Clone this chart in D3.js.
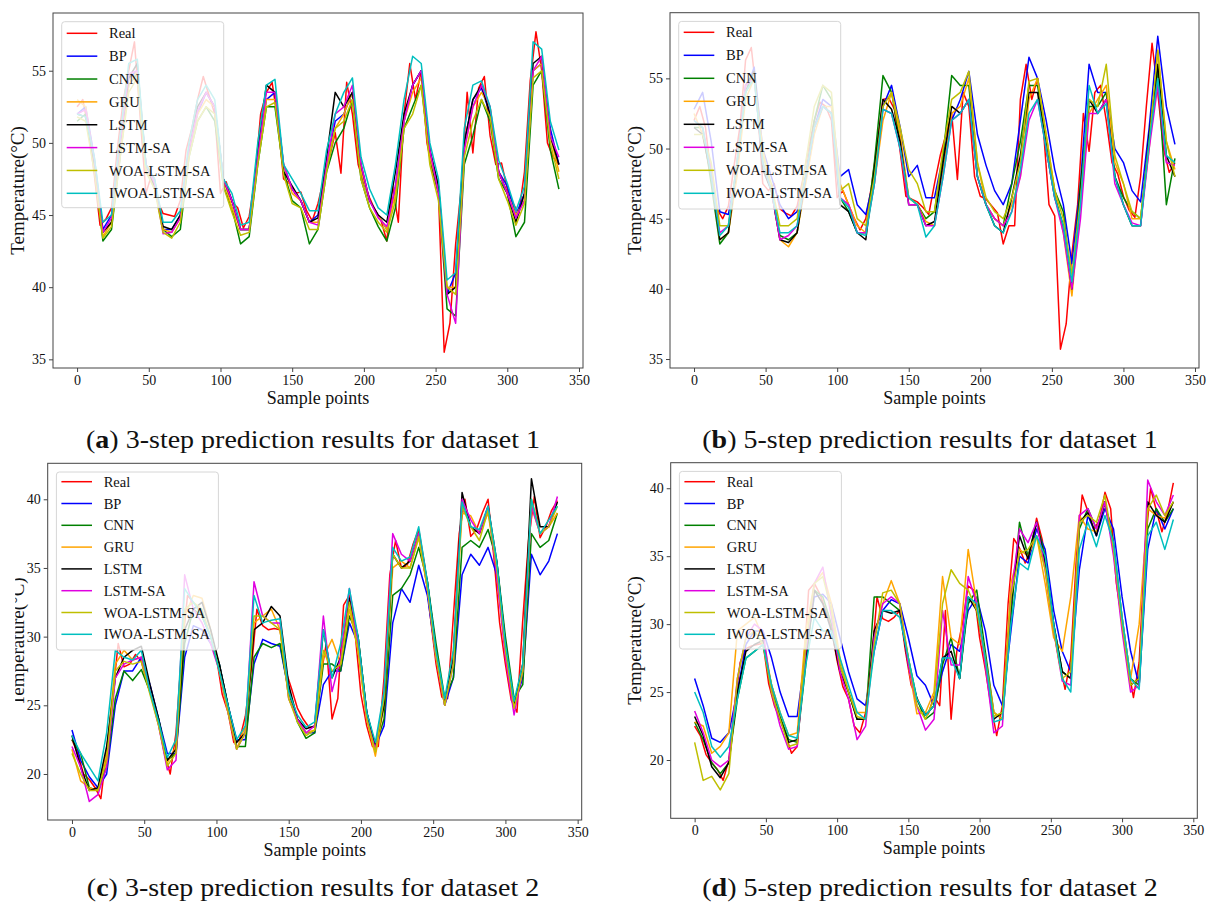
<!DOCTYPE html>
<html>
<head>
<meta charset="utf-8">
<script src="https://cdn.jsdelivr.net/npm/d3@7"></script>
<style>
  body { margin: 0; background: #fff; }
  svg { display: block; }
  text { font-family: "Liberation Serif", "Times New Roman", serif; fill: #111; }
</style>
</head>
<body>
<svg id="chart" width="1211" height="905"></svg>
<script>
// series names / colours (legend order = draw order)
const names = ["Real", "BP", "CNN", "GRU", "LSTM", "LSTM-SA", "WOA-LSTM-SA", "IWOA-LSTM-SA"];
const colors = ["#ff0000", "#0000ff", "#008000", "#ffa500", "#000000", "#e000e0", "#bfbf00", "#00bfbf"];
const xTicks = [0, 50, 100, 150, 200, 250, 300, 350];

// Real is read every 4 samples, the models every 6 samples
const realStep = 4, modelStep = 6;

// ---- (a) 3-step, dataset 1
const realA = [52.5,53.0,50.9,47.8,44.3,44.7,45.5,49.5,52.8,55.0, 57.0,51.8,46.5,47.8,46.0,45.1,45.0,44.9,46.0,49.5,
  51.0,53.0,54.6,53.3,52.0,46.5,47.3,45.9,45.5,44.1, 44.9,47.5,52.0,53.5,54.2,51.5,47.5,47.2,46.5,46.6,
  45.3,44.6,45.8,47.5,49.0,50.7,47.9,54.2,52.0,48.5, 47.2,46.2,45.3,44.6,43.2,47.0,44.5,52.0,55.5,53.0,
  55.0,50.0,48.0,46.5,35.5,37.5,43.0,47.0,53.5,49.3, 53.8,54.6,50.5,48.5,48.6,46.8,45.8,45.1,48.0,54.3,
  57.7,55.0,50.0,49.0,48.5];
const bpA = [52.0,52.5,49.0,44.0,45.0,49.5,54.5,55.0,48.5,47.5, 44.0,44.0,45.0,49.5,52.0,53.5,52.5,47.5,46.0,44.0,
  44.0,49.0,53.0,53.5,48.5,46.8,46.0,44.5,45.0,48.5, 51.5,52.0,53.5,48.0,46.0,45.0,44.0,47.0,51.5,54.0,
  55.0,49.5,47.0,39.5,41.0,50.0,53.0,53.8,52.0,48.0, 47.0,45.0,46.5,55.0,55.5,51.0,48.5];
const cnnA = [51.5,52.0,48.5,43.2,44.0,49.0,54.0,54.8,48.0,47.0, 44.0,43.5,44.0,49.0,51.5,52.5,51.5,47.0,45.5,43.0,
  43.5,48.5,52.5,52.5,48.0,46.0,45.5,43.0,44.0,48.0, 50.0,51.0,53.0,47.5,45.5,44.2,43.2,45.5,51.0,52.5,
  54.0,49.0,46.5,38.5,38.0,48.5,50.5,53.0,51.5,47.5, 46.5,43.5,44.5,54.0,55.0,49.5,46.8];
const gruA = [53.0,52.5,48.5,43.5,44.5,49.5,54.0,55.0,48.0,47.0, 44.0,43.8,44.8,49.5,52.0,53.0,52.5,47.5,45.5,44.0,
  44.0,49.0,53.0,53.0,48.5,46.5,46.0,44.5,44.5,48.5, 51.0,52.0,53.5,48.0,46.0,45.0,44.0,46.5,51.5,53.5,
  54.5,49.0,47.0,40.0,40.0,49.5,52.5,53.5,52.5,48.0, 46.5,45.0,46.0,55.0,55.5,50.5,48.0];
const lstmA = [52.0,51.8,48.5,43.8,44.5,50.0,54.5,55.5,48.5,47.0, 44.2,44.0,45.0,49.5,52.5,53.5,52.5,47.5,46.0,44.0,
  44.0,49.5,54.0,53.5,48.0,47.0,46.0,44.5,44.8,49.0, 53.5,52.5,53.5,48.5,46.0,45.0,44.5,48.0,52.0,54.0,
  55.0,49.5,47.0,39.5,40.0,50.0,53.0,54.0,52.0,48.0, 46.5,44.5,46.5,55.5,56.0,50.5,48.5];
const lstmSaA = [52.0,52.3,48.8,43.8,44.8,50.0,54.8,55.0,48.5,47.2, 43.7,43.8,44.8,49.5,52.2,53.5,52.5,47.5,46.0,44.0,
  44.0,49.0,53.5,53.5,48.5,46.8,46.0,44.5,44.3,48.5, 52.0,52.5,54.0,48.5,46.0,44.8,44.2,47.0,51.5,54.0,
  55.0,49.5,46.5,39.5,37.5,49.5,52.5,54.0,52.5,48.0, 46.5,44.8,46.0,55.0,56.0,50.5,49.0];
const woaA = [51.8,51.5,48.0,43.4,44.2,49.0,53.5,54.5,48.0,46.8, 43.8,43.4,44.5,49.0,51.5,52.5,52.0,47.0,45.2,43.6,
  43.8,48.5,52.5,52.8,47.8,45.8,45.5,44.0,44.0,48.0, 51.0,51.5,53.0,47.5,45.5,44.5,43.8,46.0,51.0,52.0,
  54.0,48.5,46.0,40.0,39.5,49.0,51.5,53.0,51.8,47.5, 46.0,44.3,45.8,54.5,55.0,50.0,47.5];
const iwoaA = [52.0,51.8,49.0,44.5,45.0,50.5,55.5,55.8,48.5,47.5, 44.5,44.5,45.3,50.0,53.0,54.0,53.0,47.5,46.5,44.3,
  44.5,50.0,54.0,54.4,48.5,47.5,46.5,45.3,45.3,49.5, 52.0,53.5,54.5,49.0,46.8,45.5,45.0,48.5,53.0,56.0,
  55.5,50.0,47.5,40.5,41.0,51.0,54.0,54.3,52.5,48.8, 47.2,45.3,47.0,57.0,56.5,51.5,49.5];

// ---- (b) 5-step, dataset 1
const realB = [52.0,53.0,51.5,48.0,45.7,45.0,45.9,48.8,51.5,56.3, 57.2,53.5,47.5,47.0,47.5,45.7,45.4,45.2,45.9,47.8,
  50.0,52.0,53.3,53.0,52.0,46.5,47.0,46.0,45.0,44.2, 45.0,47.3,50.4,53.5,53.6,52.8,49.8,46.6,46.4,46.2,
  45.8,45.3,47.5,49.5,51.0,52.5,47.8,54.0,53.0,48.0, 46.6,46.4,45.9,45.4,43.2,44.5,44.5,53.5,56.0,53.5,
  55.0,51.5,46.0,45.2,35.7,37.5,42.5,46.0,52.5,49.8, 54.0,54.5,52.0,49.0,48.2,46.6,45.6,45.1,48.0,53.0,
  57.5,54.0,50.0,48.3,49.0];
const bpB = [52.8,54.0,50.5,45.5,45.3,48.5,54.0,55.8,50.0,48.0, 46.0,45.0,45.5,48.0,51.5,53.5,53.0,48.0,48.5,46.0,
  45.3,48.0,53.0,54.5,51.5,48.0,48.8,46.5,46.5,49.5, 52.0,53.5,55.5,51.0,48.8,47.0,46.0,47.5,52.0,56.5,
  55.0,52.0,48.5,46.0,41.8,47.5,56.0,54.0,54.0,50.0, 49.0,47.0,46.2,51.5,58.0,53.0,50.3];
const cnnB = [51.5,51.5,47.5,43.2,44.0,48.5,54.0,55.5,49.0,47.0, 43.8,43.5,44.0,48.0,52.0,54.5,53.5,46.5,45.5,44.0,
  44.0,49.0,55.2,54.0,50.5,46.5,46.0,45.0,45.5,49.5, 55.2,54.5,54.5,48.0,46.0,45.0,44.5,47.5,50.5,54.5,
  54.5,50.5,47.0,45.5,40.0,47.5,53.0,53.0,54.0,48.0, 46.5,45.5,45.0,50.5,55.5,46.0,49.3];
const gruB = [52.5,51.0,48.0,43.5,44.0,48.0,53.5,55.0,50.0,47.0, 43.5,43.0,44.0,47.5,51.0,53.0,53.0,47.5,46.0,44.5,
  44.0,47.5,52.0,54.0,51.0,46.5,46.0,44.8,44.5,48.5, 52.5,53.0,55.0,49.0,46.0,45.0,44.5,46.0,48.0,53.5,
  55.0,51.0,47.0,44.0,39.5,46.0,52.5,53.5,54.5,49.0, 47.5,45.0,45.0,50.0,57.0,50.5,48.5];
const lstmB = [51.5,51.0,48.0,43.5,44.0,49.0,54.5,55.5,48.5,47.0, 43.5,43.3,44.0,48.0,51.5,53.0,52.5,46.0,45.5,44.0,
  43.5,48.5,53.5,52.8,50.5,46.0,46.0,44.5,44.8,49.0, 53.0,52.5,53.5,48.0,46.0,44.5,44.0,46.5,49.5,54.0,
  54.0,50.0,46.5,44.5,40.0,47.0,53.5,52.5,53.5,48.0, 46.0,44.5,44.5,51.0,56.0,49.5,48.0];
const lstmSaB = [52.0,51.5,48.5,44.0,44.5,49.0,54.5,55.0,49.0,47.0, 43.5,43.8,44.5,48.0,51.5,53.0,52.5,46.5,46.0,44.0,
  44.0,47.5,52.8,52.5,50.0,46.0,46.0,44.5,44.5,48.0, 52.0,52.5,53.5,48.0,46.0,45.0,44.5,45.5,48.0,52.0,
  53.5,50.0,46.5,44.0,40.0,45.0,52.5,52.5,53.5,47.5, 46.0,44.7,44.5,50.0,54.5,49.0,48.8];
const woaB = [51.0,51.0,49.0,44.5,44.5,49.0,54.0,55.0,49.5,47.5, 44.5,44.5,45.0,49.0,53.0,54.5,54.0,47.0,47.5,45.0,
  44.5,48.0,53.0,54.0,51.5,48.5,47.5,45.5,45.5,50.0, 53.5,54.0,55.5,49.0,46.5,45.5,45.0,46.5,49.0,54.8,
  55.0,51.0,47.0,45.0,41.0,46.5,53.5,53.0,56.0,49.5, 47.5,45.5,45.0,50.5,57.0,50.5,48.0];
const iwoaB = [52.0,51.5,48.0,43.8,44.5,49.0,54.0,55.0,49.0,47.0, 44.0,44.0,44.5,48.0,51.5,53.0,52.5,46.5,45.8,44.0,
  43.8,47.5,52.8,52.5,50.0,46.5,46.0,43.7,44.5,48.0, 52.0,52.5,53.5,48.0,46.0,44.5,44.0,45.5,48.5,52.5,
  53.5,50.0,46.5,44.5,40.5,46.0,54.5,52.5,53.2,48.0, 46.0,44.5,44.5,50.5,55.0,49.5,49.0];

// ---- (c) 3-step, dataset 2
const realC = [22.5,21.5,20.0,19.6,19.0,18.2,21.7,25.5,29.5,27.8, 28.0,28.7,28.2,26.6,25.3,23.6,21.5,20.0,23.0,29.0,
  33.0,32.5,32.0,31.0,30.0,28.5,25.8,24.5,22.3,22.5, 24.2,27.5,32.0,30.8,30.5,30.6,30.5,27.5,26.2,24.8,
  24.0,23.4,23.4,27.0,29.5,24.0,25.5,32.3,33.0,30.2, 25.8,23.5,22.0,22.0,27.0,34.5,37.0,35.0,35.2,36.7,
  37.8,35.3,31.5,28.0,25.6,25.5,31.5,37.5,40.0,37.3, 37.8,39.0,40.0,35.8,31.0,28.0,25.4,24.5,31.2,37.0,
  40.2,37.2,38.0,39.2,39.9];
const bpC = [23.2,21.0,19.8,19.0,20.0,25.0,27.5,27.5,28.5,26.5, 24.0,21.5,21.5,28.5,30.8,30.5,29.5,28.0,25.0,22.5,
  22.5,28.0,29.8,29.5,29.3,26.0,24.0,23.0,23.0,26.5, 27.5,27.5,31.0,29.5,24.5,22.0,23.5,31.0,33.5,32.5,
  35.2,33.0,28.5,25.0,27.0,34.5,36.0,35.2,36.5,34.5, 29.0,25.0,27.0,36.0,34.5,35.5,37.5];
const cnnC = [22.5,21.5,19.0,18.8,20.5,25.5,27.5,26.8,27.6,26.0, 24.0,21.0,21.5,29.5,32.0,31.5,30.0,28.0,25.0,22.0,
  22.0,28.5,29.5,29.2,29.5,26.0,23.8,22.6,23.0,28.0, 28.0,27.5,31.5,30.0,24.5,22.0,24.0,33.0,33.5,34.5,
  36.5,34.0,29.5,25.5,27.0,36.5,37.0,36.5,37.8,35.5, 30.0,25.5,26.5,37.5,36.5,37.0,39.0];
const gruC = [21.8,19.5,19.0,18.8,21.5,28.0,29.0,28.3,28.5,26.0, 23.8,20.8,22.0,31.5,33.0,32.8,30.5,27.5,24.5,21.8,
  23.5,31.0,31.5,32.0,30.5,25.5,24.0,23.0,23.2,28.5, 29.8,28.0,32.0,29.0,24.0,21.3,25.0,35.0,35.5,35.0,
  37.2,33.5,28.5,25.0,29.0,39.0,38.8,37.5,39.0,35.0, 29.0,24.8,28.0,39.5,37.5,38.0,39.0];
const lstmC = [22.8,20.5,18.8,19.0,22.0,27.0,28.5,29.0,29.3,26.5, 24.0,21.0,21.8,30.5,32.0,32.5,30.5,28.0,25.0,22.3,
  23.0,30.5,31.0,32.2,31.5,26.5,24.0,23.3,23.5,30.5, 27.0,28.5,32.8,30.0,24.5,22.0,25.0,36.0,35.0,35.5,
  37.5,34.0,29.0,25.2,28.5,40.5,38.0,37.5,39.5,35.5, 29.5,25.0,28.0,41.5,38.0,38.0,39.8];
const lstmSaC = [22.0,20.5,18.0,18.5,20.5,27.0,28.0,28.3,28.5,26.0, 23.5,20.3,21.0,34.5,32.0,31.0,29.5,27.5,24.5,21.8,
  23.0,34.0,31.5,31.0,31.0,25.5,24.0,23.0,23.5,31.5, 26.0,28.5,33.5,29.5,24.0,21.8,26.0,37.5,36.0,35.5,
  37.5,33.5,28.5,25.0,28.0,40.0,38.5,37.5,39.5,34.5, 28.5,24.3,27.5,39.5,37.5,38.0,40.2];
const woaC = [21.5,20.0,18.8,18.8,21.0,27.5,28.2,28.0,28.2,25.8, 23.5,20.6,21.5,32.0,32.5,32.0,30.0,27.5,24.5,21.8,
  23.0,31.5,31.5,31.0,30.5,25.5,23.8,22.8,23.2,29.0, 27.5,28.0,32.5,29.0,24.0,21.6,25.5,36.0,35.0,35.0,
  37.3,33.5,28.5,25.0,28.0,39.5,38.0,37.0,39.2,35.0, 29.0,24.8,27.5,40.0,37.5,38.0,39.5];
const iwoaC = [22.8,21.5,20.5,19.5,23.0,29.0,28.5,28.3,29.0,26.0, 23.8,21.2,22.5,33.5,32.5,31.5,30.0,27.5,25.0,22.5,
  23.5,33.0,31.0,31.2,31.3,26.0,24.3,23.4,23.8,30.5, 27.0,29.5,33.5,30.0,24.5,22.3,26.0,36.5,35.5,35.8,
  38.0,34.0,29.0,25.5,29.0,39.8,38.0,37.8,39.5,35.5, 29.5,25.3,28.0,40.0,37.5,38.5,39.5];

// ---- (d) 5-step, dataset 2
const realD = [22.5,21.8,20.4,19.8,19.3,18.5,20.0,24.0,27.2,28.2, 28.4,28.5,28.6,25.6,24.0,23.0,21.8,20.5,21.0,26.0,
  32.5,33.0,32.2,31.0,29.7,27.3,25.4,24.5,22.5,22.0, 23.5,27.0,32.0,30.4,30.2,30.5,31.0,28.0,25.5,24.6,
  23.5,23.4,24.7,24.0,31.0,23.0,28.0,30.1,32.8,32.5, 29.0,26.7,24.0,21.8,24.0,31.5,36.3,35.6,34.5,35.5,
  37.8,36.2,32.5,29.6,27.2,25.2,27.5,35.0,39.5,38.3, 37.0,37.6,39.7,38.5,33.0,30.2,27.0,24.6,27.2,35.5,
  40.0,38.4,36.8,38.3,40.4];
const bpD = [26.0,24.0,21.6,21.3,22.0,25.0,28.5,29.5,29.5,27.5, 25.0,23.2,23.2,28.0,32.0,32.2,31.5,29.0,26.5,24.5,
  24.0,28.0,31.0,31.8,31.5,29.0,26.2,25.5,24.0,26.5, 28.5,28.0,31.0,32.0,29.5,25.5,24.0,29.5,35.0,34.5,
  37.0,35.5,31.0,28.0,26.5,34.0,38.0,36.5,38.5,37.0, 32.0,28.0,25.5,35.5,38.5,37.0,38.5];
const cnnD = [22.8,21.5,19.8,19.0,19.8,24.5,27.5,28.0,28.5,25.5, 23.2,21.5,21.3,27.0,32.5,32.0,30.0,27.0,25.0,23.0,
  23.0,32.0,32.0,31.5,31.0,27.5,24.5,23.0,23.5,27.0, 29.0,26.0,31.5,32.5,28.0,23.5,23.0,30.5,37.5,35.0,
  37.5,35.0,30.0,26.5,26.0,37.0,38.5,37.0,39.0,36.0, 30.5,26.0,25.5,37.0,38.5,37.5,38.5];
const gruD = [22.8,22.5,20.5,21.0,22.0,29.5,30.0,30.5,29.0,25.5, 23.5,21.8,22.0,29.5,33.0,33.8,31.5,27.5,25.0,23.5,
  23.5,29.0,31.5,33.2,31.5,27.0,23.4,23.5,25.0,33.5, 29.0,28.5,35.5,31.5,27.5,23.5,23.0,33.0,35.5,35.0,
  36.5,33.0,29.0,28.0,32.0,38.0,37.0,36.8,39.0,35.5, 30.5,26.0,30.0,38.5,38.0,37.8,39.0];
const lstmD = [23.2,21.8,19.5,18.7,19.8,25.0,28.0,28.5,28.8,25.0, 23.0,21.3,21.5,27.5,32.5,31.5,29.5,26.5,25.0,23.0,
  23.0,29.5,31.0,30.8,31.0,27.0,24.5,23.3,24.0,27.5, 28.0,26.0,32.0,31.0,27.5,23.0,23.5,31.5,36.5,34.8,
  37.5,34.5,30.0,26.5,26.0,37.5,38.2,36.5,39.0,35.5, 30.0,25.5,26.0,39.0,38.0,37.5,39.0];
const lstmSaD = [23.6,22.0,20.0,19.5,20.0,26.0,29.0,30.0,29.5,25.0, 22.5,20.8,21.0,28.0,33.0,34.2,30.5,26.5,24.5,21.5,
  22.5,29.0,31.5,32.0,31.5,27.0,24.0,22.2,23.0,31.0, 27.0,27.0,33.5,31.5,27.0,22.0,22.5,32.0,37.0,36.0,
  37.5,34.0,29.5,25.8,25.5,38.0,38.5,37.0,39.0,35.0, 29.5,25.0,25.5,40.6,39.0,38.0,39.5];
const woaD = [21.3,18.5,18.8,17.8,19.0,26.0,29.0,29.5,28.5,25.0, 23.0,21.0,21.2,28.5,33.0,33.5,31.0,27.0,25.0,23.2,
  23.0,28.5,32.3,32.5,31.5,27.5,24.0,23.0,24.5,31.5, 34.0,33.0,32.5,31.0,27.5,23.2,23.5,32.0,35.2,35.5,
  36.5,34.0,29.5,26.0,26.5,37.5,38.0,37.5,39.5,35.5, 30.0,25.5,26.0,38.5,39.5,38.0,39.0];
const iwoaD = [25.0,23.5,21.0,20.2,21.0,24.5,27.5,28.0,28.5,25.5, 23.5,21.8,21.6,27.0,30.5,29.5,29.5,27.5,25.5,23.5,
  23.0,28.0,31.0,31.0,30.5,27.5,24.5,23.3,24.0,27.5, 27.5,26.0,32.0,31.5,27.5,22.8,23.0,30.0,34.5,34.0,
  36.5,35.0,30.0,26.0,25.0,35.5,37.5,35.7,38.0,36.0, 30.5,26.0,25.2,36.5,37.5,35.5,37.7];

// panel layout
const panels = [
  { letter: "a", text: " 3-step prediction results for dataset 1", left: 53, top: 13, right: 583, bottom: 368,
    yDomain: [34.4, 59.0], yTicks: [35, 40, 45, 50, 55], ylabX: 24, row0: 20.3, rowDy: 22.86, legH: 186, capX: 313, capY: 448,
    series: [realA, bpA, cnnA, gruA, lstmA, lstmSaA, woaA, iwoaA] },
  { letter: "b", text: " 5-step prediction results for dataset 1", left: 670, top: 12.7, right: 1199, bottom: 368,
    yDomain: [34.36, 59.68], yTicks: [35, 40, 45, 50, 55], ylabX: 641, row0: 19.6, rowDy: 23, legH: 187.6, capX: 930, capY: 448,
    series: [realB, bpB, cnnB, gruB, lstmB, lstmSaB, woaB, iwoaB] },
  { letter: "c", text: " 3-step prediction results for dataset 2", left: 47.7, top: 463.3, right: 581.7, bottom: 820,
    yDomain: [16.65, 42.62], yTicks: [20, 25, 30, 35, 40], ylabX: 24, row0: 18.4, rowDy: 21.8, legH: 178, capX: 313, capY: 896,
    clipLabel: 15.2, series: [realC, bpC, cnnC, gruC, lstmC, lstmSaC, woaC, iwoaC] },
  { letter: "d", text: " 5-step prediction results for dataset 2", left: 670.7, top: 462.7, right: 1197.3, bottom: 818.3,
    yDomain: [15.71, 41.88], yTicks: [20, 25, 30, 35, 40], ylabX: 641, row0: 19, rowDy: 21.8, legH: 177.6, capX: 930, capY: 896,
    series: [realD, bpD, cnnD, gruD, lstmD, lstmSaD, woaD, iwoaD] }
];

const svg = d3.select("#chart");
const frameColor = "#444";

panels.forEach((p, pi) => {
  const x = d3.scaleLinear().domain([-16.8, 352.8]).range([p.left, p.right]);
  const y = d3.scaleLinear().domain(p.yDomain).range([p.bottom, p.top]);
  const g = svg.append("g").attr("class", "panel-" + p.letter);

  // lines
  const line = d3.line().x(d => x(d[0])).y(d => y(d[1]));
  p.series.forEach((arr, si) => {
    const step = si === 0 ? realStep : modelStep;
    g.append("path")
      .datum(arr.map((v, i) => [i * step, v]))
      .attr("d", line)
      .attr("fill", "none")
      .attr("stroke", colors[si])
      .attr("stroke-width", 1.5)
      .attr("stroke-linejoin", "round");
  });

  // axes
  const xAxis = g.append("g")
    .attr("transform", `translate(0,${p.bottom})`)
    .call(d3.axisBottom(x).tickValues(xTicks).tickSize(4).tickPadding(3));
  const yAxis = g.append("g")
    .attr("transform", `translate(${p.left},0)`)
    .call(d3.axisLeft(y).tickValues(p.yTicks).tickSize(4).tickPadding(3));
  [xAxis, yAxis].forEach(a => {
    a.select(".domain").remove();
    a.selectAll("line").attr("stroke", frameColor);
    a.selectAll("text").attr("font-family", "Liberation Serif, serif").style("font-size", "14px").attr("fill", "#111");
  });

  // frame
  g.append("rect")
    .attr("x", p.left).attr("y", p.top)
    .attr("width", p.right - p.left).attr("height", p.bottom - p.top)
    .attr("fill", "none").attr("stroke", frameColor).attr("stroke-width", 1);

  // axis labels
  g.append("text")
    .attr("x", (p.left + p.right) / 2).attr("y", p.bottom + 36)
    .attr("text-anchor", "middle").style("font-size", "18px")
    .text("Sample points");

  // y label sits in its own group so a clip (panel c is cut at the left edge) works in page coords
  const ylabG = g.append("g");
  ylabG.append("text")
    .attr("transform", `translate(${p.ylabX},${(p.top + p.bottom) / 2}) rotate(-90)`)
    .attr("text-anchor", "middle").style("font-size", "19px")
    .text("Temperature(°C)");
  if (p.clipLabel) {
    svg.append("clipPath").attr("id", "ylab-clip-" + pi)
      .append("rect").attr("x", p.clipLabel).attr("y", p.top).attr("width", 60).attr("height", p.bottom - p.top);
    ylabG.attr("clip-path", `url(#ylab-clip-${pi})`);
  }

  // legend
  const lx = p.left + 8.7, ly = p.top + 8.7;
  const leg = g.append("g");
  leg.append("rect")
    .attr("x", lx).attr("y", ly).attr("width", 162).attr("height", p.legH)
    .attr("rx", 3).attr("fill", "#fff").attr("fill-opacity", 0.8)
    .attr("stroke", "#d6d6d6").attr("stroke-width", 1);
  names.forEach((n, i) => {
    const ry = p.top + p.row0 + i * p.rowDy;
    leg.append("line")
      .attr("x1", lx + 5).attr("x2", lx + 35.6).attr("y1", ry).attr("y2", ry)
      .attr("stroke", colors[i]).attr("stroke-width", 1.5);
    leg.append("text")
      .attr("x", lx + 47.3).attr("y", ry).attr("dy", "0.35em")
      .style("font-size", "14.5px")
      .text(n);
  });

  // caption
  const cap = svg.append("text")
    .attr("transform", `translate(${p.capX},${p.capY}) scale(1.12,1)`)
    .attr("text-anchor", "middle").style("font-size", "25px");
  cap.append("tspan").text("(");
  cap.append("tspan").attr("font-weight", "bold").text(p.letter);
  cap.append("tspan").text(")");
  cap.append("tspan").text(p.text);
});
</script>
</body>
</html>
